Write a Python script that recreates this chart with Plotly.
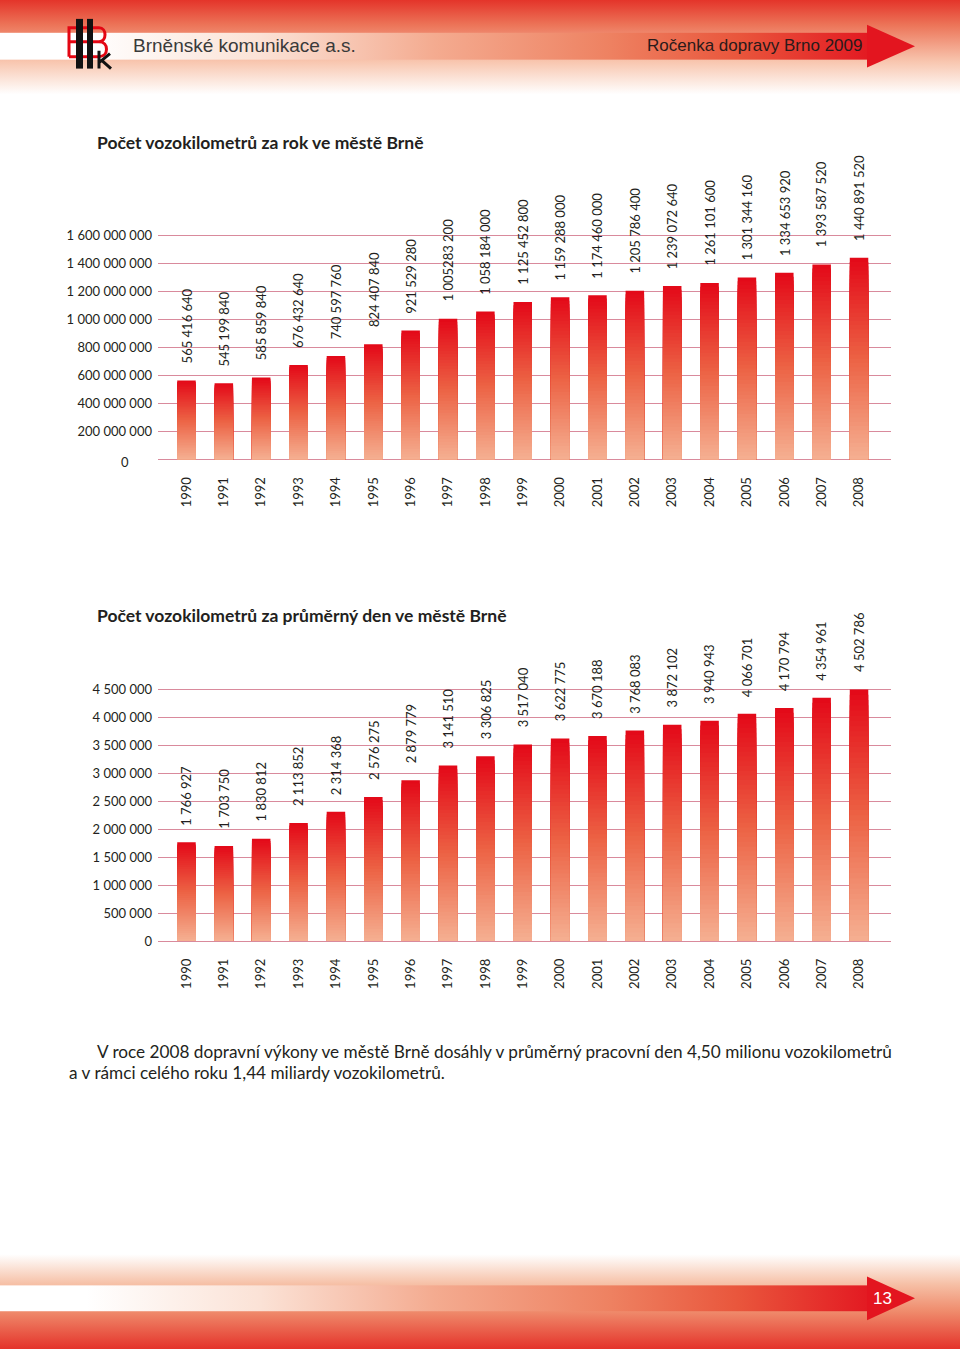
import base64
import plotly.graph_objects as go

# ---------------- data ----------------
years = list(range(1990, 2009))

annual_vkm = [565416640, 545199840, 585859840, 676432640, 740597760, 824407840,
              921529280, 1005283200, 1058184000, 1125452800, 1159288000, 1174460000,
              1205786400, 1239072640, 1261101600, 1301344160, 1334653920, 1393587520,
              1440891520]
annual_labels = ["565 416 640", "545 199 840", "585 859 840", "676 432 640", "740 597 760",
                 "824 407 840", "921 529 280", "1 005283 200", "1 058 184 000", "1 125 452 800",
                 "1 159 288 000", "1 174 460 000", "1 205 786 400", "1 239 072 640",
                 "1 261 101 600", "1 301 344 160", "1 334 653 920", "1 393 587 520",
                 "1 440 891 520"]
annual_tickvals = [0, 200e6, 400e6, 600e6, 800e6, 1000e6, 1200e6, 1400e6, 1600e6]
annual_ticktext = ["", "200 000 000", "400 000 000", "600 000 000", "800 000 000",
                   "1 000 000 000", "1 200 000 000", "1 400 000 000", "1 600 000 000"]

daily_vkm = [1766927, 1703750, 1830812, 2113852, 2314368, 2576275, 2879779, 3141510,
             3306825, 3517040, 3622775, 3670188, 3768083, 3872102, 3940943, 4066701,
             4170794, 4354961, 4502786]
daily_labels = ["1 766 927", "1 703 750", "1 830 812", "2 113 852", "2 314 368", "2 576 275",
                "2 879 779", "3 141 510", "3 306 825", "3 517 040", "3 622 775", "3 670 188",
                "3 768 083", "3 872 102", "3 940 943", "4 066 701", "4 170 794", "4 354 961",
                "4 502 786"]
daily_tickvals = [0, 500000, 1000000, 1500000, 2000000, 2500000, 3000000, 3500000, 4000000, 4500000]
daily_ticktext = ["0", "500 000", "1 000 000", "1 500 000", "2 000 000", "2 500 000",
                  "3 000 000", "3 500 000", "4 000 000", "4 500 000"]

title_annual = "Počet vozokilometrů za rok ve městě Brně"
title_daily = "Počet vozokilometrů za průměrný den ve městě Brně"
para_line1 = "V roce 2008 dopravní výkony ve městě Brně dosáhly v průměrný pracovní den 4,50 milionu vozokilometrů"
para_line2 = "a v rámci celého roku 1,44 miliardy vozokilometrů."
header_left = "Brněnské komunikace a.s."
header_right = "Ročenka dopravy Brno 2009"
page_no = "13"

# ---------------- style ----------------
W, H = 960, 1357
TEXT = "#231f20"
GRID = "#d98a9c"
FONT = "Lato"
N_STEPS = 48
BAR_W = 0.495
STOPS = [(0.0, (245, 176, 146)), (0.5, (236, 98, 68)), (1.0, (227, 8, 24))]


def grad(t):
    for (t0, c0), (t1, c1) in zip(STOPS[:-1], STOPS[1:]):
        if t0 <= t <= t1:
            f = (t - t0) / (t1 - t0)
            return "rgb(%d,%d,%d)" % tuple(round(a + (b - a) * f) for a, b in zip(c0, c1))
    return "rgb(%d,%d,%d)" % STOPS[-1][1]


def py(px):
    return 1 - px / H


fig = go.Figure()

for values, xa, ya in [(annual_vkm, "x", "y"), (daily_vkm, "x2", "y2")]:
    for k in range(N_STEPS):
        frac = (N_STEPS - k) / N_STEPS
        fig.add_trace(go.Bar(
            x=years, y=[v * frac for v in values], width=BAR_W,
            marker=dict(color=grad(frac - 0.5 / N_STEPS), line=dict(width=0)),
            xaxis=xa, yaxis=ya, showlegend=False, hoverinfo="skip"))

annotations = []
for values, labels, xa, ya in [(annual_vkm, annual_labels, "x", "y"),
                               (daily_vkm, daily_labels, "x2", "y2")]:
    for yr, v, lab in zip(years, values, labels):
        annotations.append(dict(x=yr, y=v, xref=xa, yref=ya, text=lab, textangle=-90,
                                xanchor="center", yanchor="bottom", yshift=15,
                                showarrow=False, font=dict(family=FONT, size=13, color=TEXT)))

annotations += [
    dict(x=95 / W, y=py(143), xref="paper", yref="paper", text="<b>%s</b>" % title_annual,
         xanchor="left", yanchor="middle", showarrow=False,
         font=dict(family=FONT, size=17.5, color=TEXT)),
    dict(x=95 / W, y=py(619), xref="paper", yref="paper", text="<b>%s</b>" % title_daily,
         xanchor="left", yanchor="middle", showarrow=False,
         font=dict(family=FONT, size=17.5, color=TEXT)),
    dict(x=125 / W, y=py(465), xref="paper", yref="paper", text="0",
         xanchor="center", yanchor="middle", showarrow=False,
         font=dict(family=FONT, size=13, color=TEXT)),
    dict(x=95 / W, y=py(1058), xref="paper", yref="paper", text=para_line1,
         xanchor="left", yanchor="middle", showarrow=False,
         font=dict(family=FONT, size=17.2, color=TEXT)),
    dict(x=67 / W, y=py(1079), xref="paper", yref="paper", text=para_line2,
         xanchor="left", yanchor="middle", showarrow=False,
         font=dict(family=FONT, size=17.2, color=TEXT)),
    dict(x=131 / W, y=py(46), xref="paper", yref="paper", text=header_left,
         xanchor="left", yanchor="middle", showarrow=False,
         font=dict(family="Liberation Sans", size=19, color="#3a3a3a")),
    dict(x=864 / W, y=py(46), xref="paper", yref="paper", text=header_right,
         xanchor="right", yanchor="middle", showarrow=False,
         font=dict(family="Liberation Sans", size=17, color="#2a1a1a")),
    dict(x=882 / W, y=py(1306), xref="paper", yref="paper", text=page_no,
         xanchor="center", yanchor="middle", showarrow=False,
         font=dict(family="Liberation Sans", size=17, color="#ffffff")),
]

# ---------------- decorative page background (header / footer / logo) ----------------
svg = f"""<svg xmlns='http://www.w3.org/2000/svg' width='{W}' height='{H}' viewBox='0 0 {W} {H}' preserveAspectRatio='none'>
<defs>
<linearGradient id='hv' x1='0' y1='0' x2='0' y2='1'>
<stop offset='0' stop-color='#e4342a'/><stop offset='0.25' stop-color='#ec7458'/>
<stop offset='0.62' stop-color='#f8c6af'/><stop offset='0.95' stop-color='#ffffff'/></linearGradient>
<linearGradient id='fv' x1='0' y1='0' x2='0' y2='1'>
<stop offset='0' stop-color='#ffffff'/><stop offset='0.11' stop-color='#ffffff'/>
<stop offset='0.39' stop-color='#f6c0a6'/><stop offset='0.65' stop-color='#ef8a6b'/>
<stop offset='1' stop-color='#e4332a'/></linearGradient>
<linearGradient id='hb' x1='0' y1='0' x2='1' y2='0'>
<stop offset='0' stop-color='#ffffff'/><stop offset='0.1' stop-color='#ffffff'/>
<stop offset='0.3' stop-color='#fbe2d6'/><stop offset='0.5' stop-color='#f4ab90'/>
<stop offset='0.7' stop-color='#ee8262'/><stop offset='0.85' stop-color='#e9563c'/>
<stop offset='1' stop-color='#e31a22'/></linearGradient>
</defs>
<rect x='0' y='0' width='{W}' height='100' fill='url(#hv)'/>
<rect x='0' y='33' width='868' height='27' fill='url(#hb)'/>
<polygon points='867,25 915,46.5 867,68' fill='#e3151f'/>
<rect x='0' y='1250' width='{W}' height='107' fill='url(#fv)'/>
<rect x='0' y='1293' width='868' height='26' fill='url(#hb)'/>
<polygon points='867,1284 915,1306 867,1328' fill='#e3151f'/>
<path d='M69,57 V28 H99 C107,28 107,42 99,42 H69 M99,42 C109,42 109,57 99,57 H69' stroke='#e30613' stroke-width='3' fill='none'/>
<rect x='76' y='19' width='7' height='50' fill='#111'/>
<rect x='87' y='19' width='6' height='50' fill='#111'/>
<path d='M99,69 V51 M99,63 L110,54 M102,61 L111,69' stroke='#111' stroke-width='3' fill='none'/>
</svg>"""
uri = "data:image/svg+xml;base64," + base64.b64encode(svg.encode("utf-8")).decode("ascii")

x_dom = [158 / W, 891 / W]
x_rng = [1990 - 28.5 / 37.4, 2008 + 32 / 37.4]

xcommon = dict(domain=x_dom, range=x_rng, tickvals=years, ticktext=[str(y) for y in years],
               tickangle=-90, ticklabelstandoff=14, showgrid=False, zeroline=False,
               showline=False, ticks="", tickfont=dict(family=FONT, size=13, color=TEXT),
               fixedrange=True)
ycommon = dict(showgrid=True, gridcolor=GRID, gridwidth=1, zeroline=True, zerolinecolor=GRID,
               zerolinewidth=1, showline=False, ticks="", ticklabelstandoff=5,
               tickfont=dict(family=FONT, size=13, color=TEXT), fixedrange=True)

fig.update_layout(
    width=W, height=H, autosize=False, margin=dict(l=0, r=0, t=0, b=0, pad=0),
    paper_bgcolor="white", plot_bgcolor="rgba(0,0,0,0)",
    barmode="overlay", showlegend=False,
    xaxis=dict(anchor="y", **xcommon),
    yaxis=dict(anchor="x", domain=[py(462.3), py(222.9)], range=[0, 1.7e9],
               tickvals=annual_tickvals, ticktext=annual_ticktext, **ycommon),
    xaxis2=dict(anchor="y2", **xcommon),
    yaxis2=dict(anchor="x2", domain=[py(946.7), py(676.8)], range=[0, 4.8e6],
                tickvals=daily_tickvals, ticktext=daily_ticktext, **ycommon),
    annotations=annotations,
    images=[dict(source=uri, xref="paper", yref="paper", x=0, y=1, sizex=1, sizey=1,
                 xanchor="left", yanchor="top", sizing="stretch", layer="below")],
)

fig.write_html(
    "out.html",
    config={"displayModeBar": False},
    post_script=("var d=document.documentElement,b=document.body;"
                 "d.style.margin='0';d.style.padding='0';d.style.overflow='hidden';"
                 "b.style.margin='0';b.style.padding='0';b.style.overflow='hidden';"),
)
